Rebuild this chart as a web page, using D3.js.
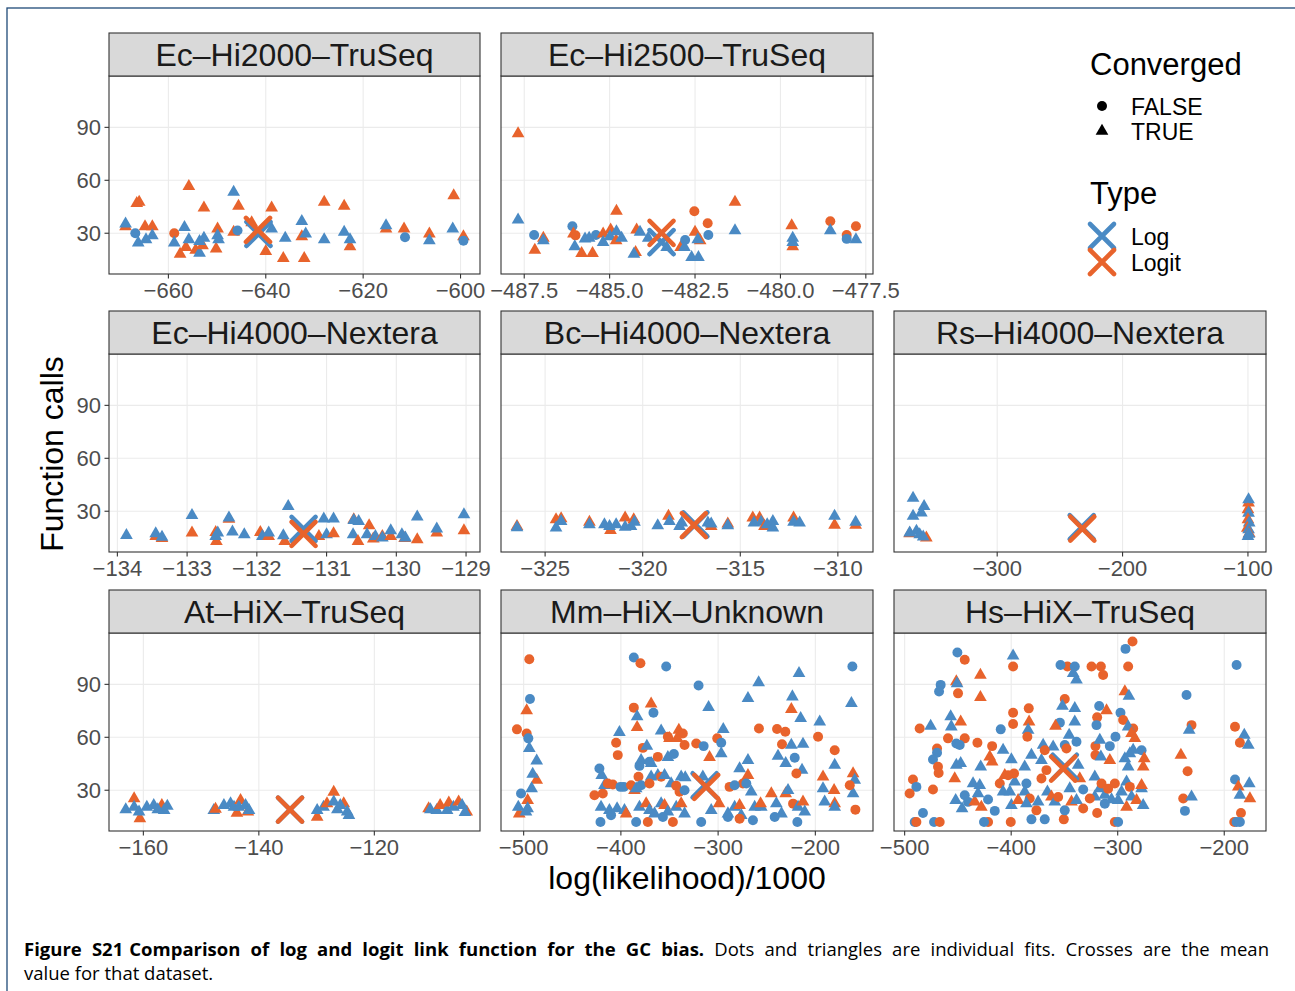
<!DOCTYPE html>
<html>
<head>
<meta charset="utf-8">
<script src="https://cdn.jsdelivr.net/npm/d3@7"></script>
<style>
body { margin: 0; background: #fff; }
svg text { font-family: "Liberation Sans", Arial, Helvetica, sans-serif; }
</style>
</head>
<body>
<div id="chart"></div>
<script>
// facets, in facet_wrap order
const datasets = ["Ec–Hi2000–TruSeq", "Ec–Hi2500–TruSeq", "Ec–Hi4000–Nextera", "Bc–Hi4000–Nextera",
    "Rs–Hi4000–Nextera", "At–HiX–TruSeq", "Mm–HiX–Unknown", "Hs–HiX–TruSeq"]
const xDomains = [[-672.2, -596.0], [-488.18, -477.29], [-134.12, -128.8], [-327.26, -308.2],
    [-382.3, -85.6], [-165.95, -101.7], [-523.3, -140.7], [-510, -160.8]]
const xTicks = [[-660, -640, -620, -600], [-487.5, -485, -482.5, -480, -477.5], [-134, -133, -132, -131, -130, -129],
    [-325, -320, -315, -310], [-300, -200, -100], [-160, -140, -120], [-500, -400, -300, -200], [-500, -400, -300, -200]]
const xTickFormats = ["d", ".1f", "d", "d", "d", "d", "d", "d"]
const yDomain = [6.9, 119.1]
const yTicks = [30, 60, 90]
const typeLabels = ["Log", "Logit"]
const convergedLabels = ["FALSE", "TRUE"]
const typeColors = ["#4a8ac4", "#e8632c"]

// individual fits: [log(likelihood)/1000, function calls, type (0 Log, 1 Logit), converged (0/1)]
const fitsEcHi2000 = [
    [-668.8,33.8,1,1],[-668.8,35.3,0,1],[-666.8,30,0,0],[-666.5,47,1,1],[-666,47.6,1,1],[-666.2,24.5,0,1],
    [-664.8,33.8,1,1],[-663.3,33.8,1,1],[-664.6,26.4,0,1],[-663.3,28.7,0,1],[-658.8,30,1,0],[-658.8,24.5,0,1],
    [-657.6,18.2,1,1],[-656.7,33.4,0,1],[-656.4,22,1,1],[-655.8,56.6,1,1],[-655.8,26.4,0,1],[-654.4,20.5,1,1],
    [-653.6,18.8,0,1],[-653,23,1,1],[-653.6,25.4,0,1],[-652.7,27.3,0,1],[-652.7,44.4,1,1],[-650.2,21.1,1,1],
    [-649.9,32.5,1,1],[-649.9,28.7,0,1],[-649.7,26.4,0,1],[-646.6,53.3,0,1],[-646.6,30.6,1,1],[-645.8,31.5,0,0],
    [-645.6,45.4,1,1],[-642.9,36,1,1],[-638.8,32.5,0,1],[-638.8,44.4,1,1],[-640,19.8,1,1],[-636.4,15.8,1,1],
    [-636,27.3,0,1],[-632.6,36.8,0,1],[-632.6,28.1,1,1],[-631.8,29.6,0,1],[-632.1,15.8,1,1],[-628,26.4,0,1],
    [-628,47.6,1,1],[-623.9,45.4,1,1],[-623.9,30.6,0,1],[-622.7,22.4,1,1],[-622.7,26.4,0,1],[-615.3,32.5,1,1],
    [-615.3,34.4,0,1],[-611.6,32.5,1,1],[-611.4,27.7,0,0],[-606.4,29.6,1,1],[-606.4,25.8,0,1],[-601.4,51.4,1,1],
    [-601.6,32.5,0,1],[-599.4,28.1,1,1],[-599.4,25.8,0,0]
]
const fitsEcHi2500 = [
    [-487.68,86.5,1,1],[-487.68,37.6,0,1],[-487.21,29,0,0],[-486.94,27.2,1,1],[-486.94,25.8,0,1],[-487.19,20.5,1,1],
    [-486.09,34,0,0],[-486.06,29.6,1,1],[-486.0,28.8,1,0],[-486.02,22.4,0,1],[-485.82,18.6,1,1],[-485.72,26.8,0,1],
    [-485.6,27.3,0,1],[-485.5,18.6,1,1],[-485.4,29,0,0],[-485.19,29.6,1,1],[-485.19,24.9,0,1],[-484.97,31.9,1,1],
    [-484.99,28.1,0,1],[-484.8,42.5,1,1],[-484.81,25.8,1,1],[-484.8,31,0,1],[-484.65,27.2,0,1],[-484.24,19.2,1,1],
    [-484.29,18.2,0,1],[-484.21,31.9,1,1],[-484.11,30.6,0,1],[-483.87,27.3,0,1],[-483.33,22,0,1],[-482.92,22,1,1],
    [-482.79,26.2,0,0],[-482.81,22,0,1],[-482.52,42.5,1,0],[-482.5,30.6,1,1],[-482.6,16.3,0,1],[-482.4,16.3,0,1],
    [-482.35,25.8,1,1],[-482.42,26.4,0,1],[-482.13,35.7,1,0],[-482.11,29,0,0],[-481.33,47.6,1,1],[-481.33,31.5,0,1],
    [-479.67,34.4,1,1],[-479.64,22.4,1,1],[-479.64,24.9,0,1],[-479.64,27.2,0,1],[-478.54,36.8,1,0],[-478.54,31.5,0,1],
    [-478.06,29,1,0],[-478.06,26.8,0,0],[-477.79,34,1,0],[-477.79,26.4,0,1]
]
const fitsEcHi4000 = [
    [-133.87,16.4,0,1],[-133.45,15.8,1,1],[-133.45,17.4,0,1],[-133.36,14.6,1,1],[-133.36,15.3,0,1],[-132.93,17.7,1,1],
    [-132.93,27.7,0,1],[-132.58,13,1,1],[-132.59,18.1,1,1],[-132.59,15.8,0,1],[-132.56,17.7,0,1],[-132.4,25.5,1,1],
    [-132.4,26.2,0,1],[-132.35,18.3,0,1],[-132.18,16.8,0,1],[-131.95,18.1,1,1],[-131.92,15.8,0,1],[-131.83,15.8,1,1],
    [-131.83,17.7,0,1],[-131.6,13,1,1],[-131.62,16.2,0,1],[-131.55,32.8,0,1],[-131.11,15.8,1,1],[-131.04,25.7,0,1],
    [-131.0,16.8,0,1],[-130.9,17.4,1,1],[-130.9,25.7,0,1],[-130.61,25.3,1,1],[-130.62,16.8,0,1],[-130.61,24.8,0,1],
    [-130.54,24.3,0,1],[-130.55,13,1,1],[-130.39,21.9,1,1],[-130.42,16.8,0,1],[-130.33,14.3,1,1],[-130.3,15.8,0,1],
    [-130.2,15.8,1,1],[-130.2,14.9,0,1],[-130.08,15.8,1,1],[-130.08,19,0,1],[-129.88,14.6,1,1],[-129.92,16.8,0,1],
    [-129.87,14.9,0,1],[-129.7,14,1,1],[-129.7,26.8,0,1],[-129.42,17.7,1,1],[-129.42,20,0,1],[-129.03,19,1,1],
    [-129.03,28.1,0,1]
]
const fitsBcHi4000 = [
    [-326.44,21.5,1,1],[-326.44,20.8,0,1],[-324.44,25.3,1,1],[-324.18,25.8,1,1],[-324.18,24.3,0,1],[-324.44,20.6,0,1],
    [-322.73,23.8,1,1],[-322.73,22.5,0,1],[-321.96,22.5,0,1],[-321.65,19.2,1,1],[-321.7,21.5,0,1],[-321.36,22.5,0,1],
    [-320.9,26.2,1,1],[-320.9,21,0,1],[-320.6,21.5,0,1],[-320.46,25.3,1,1],[-320.42,23.8,0,1],[-319.23,21.9,0,1],
    [-318.68,27.2,1,1],[-318.63,24.3,0,1],[-318.11,21.5,0,1],[-318.0,23.4,0,1],[-316.66,23.4,0,1],[-316.49,21.5,1,1],
    [-316.49,22.8,0,1],[-315.64,22.8,1,1],[-315.64,21.9,0,1],[-314.36,26.2,1,1],[-314.01,26.2,1,1],[-314.3,23.4,0,1],
    [-313.93,23.8,0,1],[-313.76,21.5,1,1],[-313.62,22.5,0,1],[-313.33,24.3,0,1],[-313.33,20.6,0,1],[-312.27,26.2,1,1],
    [-312.27,23.8,0,1],[-311.96,23.4,0,1],[-310.17,22.1,1,1],[-310.17,27.2,0,1],[-309.09,22.1,1,1],[-309.09,23.8,0,1]
]
const fitsRsHi4000 = [
    [-369.8,17.4,1,1],[-367.1,37.5,0,1],[-367.1,27.2,0,1],[-358.3,32.8,0,1],[-360.5,29.1,0,1],[-369.8,17.7,0,1],
    [-364.4,18.7,0,1],[-356.5,14.9,1,1],[-361.8,16.8,0,1],[-359.0,15.5,0,1],
    [-99.5,34.7,1,1],[-99.5,36.6,0,1],[-100,31,1,1],[-99.5,29,0,1],[-100,25.3,1,1],[-99,23.4,0,1],
    [-100.5,20.5,1,1],[-99.5,19.6,0,1],[-99,17.5,1,1],[-100,15.8,0,1],[-99.2,17,0,1]
]
const fitsAtHiX = [
    [-163.05,19,0,1],[-161.6,25.3,1,1],[-161.6,20.5,0,1],[-160.6,13.9,1,1],[-160.75,17.7,0,1],[-159.4,20.5,0,1],
    [-158.2,21.5,0,1],[-156.8,21.5,1,1],[-156.4,18.6,0,1],[-155.85,21,0,1],[-157.5,19,0,1],
    [-147.8,18.6,0,1],[-147.5,19.3,1,1],[-146.05,21.5,0,1],[-143.8,17,1,1],[-144.9,22.4,0,1],[-144.3,20.5,0,1],
    [-143.17,24.3,1,1],[-143.46,20.5,0,1],[-141.9,17.8,1,1],[-142.3,21.5,0,1],[-141.7,18.6,0,1],
    [-129.9,14.8,1,1],[-129.9,18.6,0,1],[-128.8,20.5,0,1],[-128.2,22.4,1,1],[-127.03,29,1,1],[-127.03,23.4,0,1],
    [-126.4,19,0,1],[-125.3,22.4,1,1],[-125.9,21.5,0,1],[-124.7,17.7,0,1],[-124.4,15.8,0,1],
    [-110.6,19.6,1,1],[-110.3,19,0,1],[-109.2,18.6,0,1],[-108.6,21.5,1,1],[-107.4,18.6,0,1],[-107.1,22.8,1,1],
    [-106.3,20.5,0,1],[-105.4,23.4,1,1],[-104,17.7,1,1],[-104.8,21.5,0,1],[-104.3,17.5,0,1]
]
const fitsMmHiX = [
    [-494.2,104.2,1,0],[-493.5,81.7,0,0],[-496.9,75.1,1,1],[-506.9,64.5,1,0],[-496.9,62.2,1,0],[-495.2,59.4,0,0],
    [-494.2,53.7,0,1],[-486.6,46.7,0,1],[-486.6,35.7,1,1],[-490.7,39.1,0,1],[-491.8,30.9,0,1],[-502.7,28.1,0,0],
    [-495.9,24.3,1,1],[-504.5,16.7,1,1],[-505.5,20.5,0,1],[-495.9,19.6,0,1],[-497.6,17.7,0,1],
    [-386.7,105.2,0,0],[-379.9,102,1,0],[-353.4,100.1,0,0],[-386.7,76.8,1,0],[-368.9,78.9,1,1],[-366.5,73.9,0,0],
    [-383.3,71.7,0,1],[-383.3,65.6,1,1],[-401.5,62.8,0,1],[-358.6,63.7,0,1],[-340.4,64.1,1,1],[-336.3,62.2,1,0],
    [-350.0,59.4,1,1],[-351.7,60.3,1,0],[-404.9,56.9,1,0],[-403.2,49.9,1,0],[-377.4,54.0,1,0],[-373.3,55.0,0,1],
    [-379.2,47.0,0,1],[-380.9,43.8,0,0],[-368.9,45.2,0,1],[-370.6,46.1,0,0],[-362.0,48.9,1,0],[-351.7,48.6,0,1],
    [-345.5,50.5,0,0],[-334.5,55.6,1,0],[-342.1,59.4,1,1],[-422.1,42.3,0,0],[-419.7,38.5,0,1],[-427.2,27.2,1,0],
    [-418.6,28.1,1,0],[-416.9,32.8,0,1],[-413.5,33.8,1,0],[-408.3,33.2,1,0],[-400.4,31.9,0,0],[-397.0,31.9,0,0],
    [-389.5,32.8,1,0],[-386.0,30.0,1,1],[-384.3,30.9,0,1],[-381.9,37.6,1,0],[-379.2,32.8,0,0],[-368.9,37.6,0,1],
    [-370.6,33.8,1,0],[-362.0,38.5,0,1],[-358.6,37.6,1,0],[-355.1,38.5,0,1],[-348.3,33.8,0,1],[-343.1,32.5,1,0],
    [-338.0,37.6,0,1],[-339.7,29.1,1,0],[-334.5,30.0,0,0],[-333.8,37.2,0,1],
    [-421.0,12,0,0],[-420.4,20.5,0,1],[-411.8,18.6,0,1],[-410.1,15.8,0,0],[-403.9,19.6,0,1],[-396.3,18.6,0,1],
    [-394.6,16.7,1,1],[-384.3,12,0,0],[-380.9,20.5,0,1],[-374.0,22.4,1,1],[-370.6,18.6,0,1],[-372.3,12,1,0],
    [-365.4,16.7,0,1],[-358.6,22.4,0,1],[-355.1,21.5,1,1],[-351.7,17.7,0,1],[-346.5,12,1,0],[-356.8,14.8,0,0],
    [-343.1,20.5,0,1],[-338.0,22.4,1,1],[-334.5,16.7,0,1],
    [-320.1,89.3,0,0],[-322.5,56.5,1,0],[-314.9,55.0,0,0],[-300.9,59.4,1,0],[-296.8,56.9,0,0],[-294.7,64.5,0,1],
    [-296.8,50.8,0,1],[-309.8,77.0,0,1],[-308.8,48.6,1,1],[-315.7,37.6,0,1],[-307.1,18.6,0,1],[-317.4,12,0,0],
    [-299,22.4,1,1],[-289.9,16.7,0,1],[-289.9,14.8,0,0],[-283.0,20.5,0,1],[-277.9,21.5,1,1],[-276.2,15.8,0,1],
    [-277.9,13.9,1,0],[-269.3,82.1,0,1],[-258.3,91.0,0,1],[-258.0,65.0,1,0],[-269.3,47.0,0,1],[-277.9,42.3,0,1],
    [-269.3,38.5,1,1],[-274.5,33.8,1,0],[-271.0,33.8,0,0],[-288.2,31.9,1,0],[-283.0,32.8,0,0],[-265.9,29.1,0,1],
    [-264.2,13,0,0],[-262.4,20.5,0,1],[-255.6,20.5,0,1],[-256.3,22.4,1,1],
    [-216.8,96.3,0,1],[-223.6,83.0,0,1],[-224.7,75.8,1,1],[-215.1,70.7,0,1],[-239.4,64.7,1,0],[-230.9,63.1,1,0],
    [-234.3,56.1,1,0],[-224.7,55.6,0,1],[-212.7,56.1,0,1],[-238.4,49.3,0,1],[-221.2,48.4,0,0],[-230.5,45.2,0,1],
    [-213.7,41.4,0,1],[-219.5,39.5,1,0],[-245.3,28.1,1,1],[-240.1,22.4,0,1],[-241.8,14.8,0,0],[-234.8,16.7,0,1],
    [-230.5,28.1,1,1],[-228.1,30.0,0,1],[-222.9,22.4,1,0],[-218.5,12,0,0],[-217.8,20.5,0,1],[-212.7,23.4,1,1],
    [-210.9,17.7,0,1],[-195.5,68.8,0,1],[-197.2,60.3,1,0],[-180.1,52.7,1,0],[-180.1,44.2,0,1],[-192.1,37.6,1,1],
    [-192.1,30.9,0,1],[-180.7,30.0,1,1],[-190.4,23.4,0,1],[-180.1,22.4,1,1],[-180.1,20.5,0,1],
    [-161.9,100.1,0,0],[-162.9,79.2,0,1],[-161.2,39.5,1,1],[-159.5,35.7,0,1],[-161.2,28.1,0,1],[-158.8,19.0,1,0],
    [-164.6,32.8,1,0]
]
const fitsHsHiX = [
    [-286.1,114.3,1,0],[-292.7,110.1,0,0],[-450.5,108.0,0,0],[-443.6,103.9,1,0],[-398.2,106.1,0,1],[-398.2,100.1,1,0],
    [-347.2,100.1,1,0],[-353.7,101.0,0,0],[-340.3,100.1,0,0],[-341.8,96.3,0,1],[-338.7,92.5,0,1],[-324.6,100.1,1,0],
    [-315.8,100.1,1,0],[-313.7,95.3,1,0],[-290.2,100.1,1,0],[-188.4,101.0,0,0],[-428.9,95.3,1,1],[-428.9,82.7,1,1],
    [-466.2,89.7,0,0],[-467.7,85.9,0,0],[-451.5,91.6,1,1],[-450.8,90.5,0,1],[-449.9,84.9,1,0],[-293.3,85.9,1,1],
    [-289.5,83.4,0,1],[-235.4,84.0,0,0],[-230.7,66.9,1,0],[-232.9,64.1,0,1],[-349.7,81.7,1,0],[-351.9,77.7,0,1],
    [-340.3,76.4,0,1],[-317.4,77.7,0,0],[-310.5,75.1,1,1],[-398.2,73.9,1,0],[-383.5,76.4,1,0],[-398.2,67.5,1,0],
    [-409.8,64.5,0,0],[-297.4,73.9,0,0],[-294.9,69.8,1,0],[-340.3,68.8,0,1],[-354.3,68.3,0,0],[-358.4,66.4,1,1],
    [-319.3,71.3,1,0],[-319.9,66.9,0,0],[-475.6,66.4,0,1],[-485.9,65.0,1,0],[-456.8,71.7,0,1],[-447.4,68.8,1,1],
    [-456.2,66.0,0,1],[-285.5,65.0,1,0],[-290.2,66.0,0,1],[-287.0,62.2,1,1],[-283.9,59.4,1,1],[-302.1,60.3,0,0],
    [-383.2,68.8,1,1],[-384.1,64.1,0,1],[-384.8,60.3,1,0],[-189.9,66.0,1,0],[-181.2,61.3,0,1],[-185.3,56.9,1,0],
    [-177.4,55.6,0,1],[-459.3,59.4,1,0],[-443.6,59.4,1,0],[-451.5,56.5,0,0],[-448.3,55.6,0,0],[-451.5,44.2,0,1],
    [-447.4,45.2,0,1],[-453.0,36.6,1,1],[-469.6,53.7,1,0],[-469.6,51.2,0,0],[-473.4,47.4,0,0],[-468.7,43.3,1,0],
    [-468.1,39.8,1,0],[-431.7,56.9,1,0],[-417.9,55.0,1,0],[-420.1,48.9,1,1],[-417.9,46.1,1,1],[-428.6,43.3,0,1],
    [-407.6,52.7,0,1],[-399.8,47.4,0,1],[-381.0,49.9,0,1],[-371.6,47.0,0,1],[-370.0,55.6,0,1],[-360.6,54.6,0,1],
    [-368.5,52.7,1,0],[-349.7,55.6,0,0],[-348.1,53.7,1,0],[-338.7,57.5,0,0],[-345.6,61.3,0,1],[-337.1,44.2,0,1],
    [-366.9,41.4,1,0],[-371.6,36.6,1,0],[-387.3,43.3,0,1],[-396.7,34.7,0,1],[-397.3,39.5,1,0],[-320.9,55.0,1,0],
    [-320.9,49.9,1,0],[-316.8,58.4,0,1],[-315.8,48.9,0,1],[-307.4,47.0,1,1],[-307.4,55.0,0,0],[-293.3,48.0,0,1],
    [-288.6,50.8,0,1],[-285.5,52.7,0,1],[-277.6,52.7,0,0],[-275.1,48.0,1,1],[-290.2,43.3,0,1],[-276.1,43.3,1,1],
    [-240.7,49.9,1,1],[-234.4,40.8,1,0],[-189.9,36.1,0,0],[-176.5,33.8,0,1],[-186.8,31.9,1,1],[-185.3,27.2,0,1],
    [-175.9,25.3,1,1],[-184.3,17.1,1,0],[-190.6,12,1,0],[-188.4,12,0,0],[-185.3,12,0,0],[-492.2,36.1,1,0],
    [-489.0,31.9,0,0],[-495.3,28.1,1,0],[-473.4,30.4,1,0],[-482.8,17.1,0,0],[-490.6,12,0,0],[-489.0,12,1,0],
    [-472.4,12,0,0],[-467.1,12,1,0],[-421.7,12,1,0],[-425.5,12,0,0],[-400.4,12,1,0],[-381.0,13.5,0,0],
    [-368.5,13.5,0,0],[-350.6,13.5,1,0],[-319.3,17.1,1,0],[-302.7,12,1,0],[-299.6,12,0,0],[-236.9,18.3,0,0],
    [-238.5,25.3,1,0],[-230.7,26.2,0,1],
    [-452.1,24.3,0,1],[-446.1,19.6,0,1],[-443.6,27.2,0,0],[-440.5,23.4,0,0],[-434.2,23.4,1,1],[-435.8,33.8,0,1],
    [-429.5,32.8,0,1],[-431.1,28.1,0,1],[-428.0,20.5,1,1],[-421.7,24.7,0,0],[-415.4,18.3,0,0],[-410.7,33.8,1,0],
    [-407.6,29.1,0,1],[-406.0,38.5,1,1],[-401.3,29.1,0,1],[-402.9,38.5,1,0],[-399.8,21.5,0,1],[-393.5,24.3,1,1],
    [-385.7,33.8,0,0],[-387.3,29.1,0,1],[-382.6,25.3,1,0],[-385.7,22.4,0,1],[-376.3,18.6,1,0],[-374.7,23.4,0,1],
    [-366.0,29.1,0,1],[-362.2,26.2,1,1],[-359.1,23.4,0,1],[-355.9,26.2,1,0],[-349.7,18.6,0,0],[-345.0,30.9,0,1],
    [-343.4,23.4,1,1],[-335.6,36.6,1,1],[-332.4,30.4,0,0],[-338.7,24.3,0,1],[-332.4,19.6,1,0],[-321.5,26.2,0,1],
    [-326.2,25.3,1,0],[-321.5,37.6,0,1],[-316.8,30.9,0,1],[-315.2,33.8,1,0],[-312.1,27.2,0,1],[-312.1,22.4,0,0],
    [-309.0,30.9,1,0],[-305.8,24.7,0,1],[-302.7,33.8,1,0],[-299.6,24.3,0,1],[-296.4,29.1,0,1],[-291.7,20.5,1,1],
    [-291.7,34.7,0,1],[-288.6,31.9,1,0],[-287.0,26.2,0,1],[-282.3,24.3,1,1],[-277.6,30.9,0,1],[-277.6,32.8,1,1],
    [-276.1,21.5,0,1]
]
const fitsByPanel = [fitsEcHi2000, fitsEcHi2500, fitsEcHi4000, fitsBcHi4000, fitsRsHi4000, fitsAtHiX, fitsMmHiX, fitsHsHiX]

// dataset means (the crosses)
const meanLog = [[-641.5,29.6], [-483.48,24.9], [-131.33,20], [-317.3,22.5], [-232.6,21], [-134.6,19], [-313.9,32.8], [-349.7,43.3]]
const meanLogit = [[-641.6,31.9], [-483.48,30.2], [-131.33,17.2], [-317.38,22.1], [-232.1,20.2], [-134.6,19], [-312.2,31.9], [-351.2,42.3]]

const width = 1295, height = 991
const svg = d3.select("#chart").append("svg").attr("width", width).attr("height", height)

// figure frame
svg.append("rect").attr("x", 7).attr("y", 8).attr("width", width + 20).attr("height", height + 20)
    .attr("fill", "none").attr("stroke", "#1f4a78").attr("stroke-width", 1.3)

const colX = [109, 501, 894], colW = [371, 372, 372]
const rowY = [33, 311, 590], stripH = 43, plotH = 198
const grid = [[0, 0], [0, 1], [1, 0], [1, 1], [1, 2], [2, 0], [2, 1], [2, 2]]

const triangle = d3.symbol().type(d3.symbolTriangle).size(70)()
const circle = d3.symbol().type(d3.symbolCircle).size(78)()
const crossPath = s => `M${-s},${-s}L${s},${s}M${-s},${s}L${s},${-s}`

datasets.forEach((name, i) => {
    const [r, c] = grid[i]
    const x0 = colX[c], w = colW[c], top = rowY[r] + stripH
    const g = svg.append("g")
    const x = d3.scaleLinear().domain(xDomains[i]).range([x0, x0 + w])
    const y = d3.scaleLinear().domain(yDomain).range([top + plotH, top])

    g.append("rect").attr("x", x0).attr("y", top).attr("width", w).attr("height", plotH).attr("fill", "#fff")
    g.selectAll(".vg").data(xTicks[i]).enter().append("line")
        .attr("x1", d => x(d)).attr("x2", d => x(d)).attr("y1", top).attr("y2", top + plotH)
        .attr("stroke", "#ebebeb").attr("stroke-width", 1.1)
    g.selectAll(".hg").data(yTicks).enter().append("line")
        .attr("x1", x0).attr("x2", x0 + w).attr("y1", d => y(d)).attr("y2", d => y(d))
        .attr("stroke", "#ebebeb").attr("stroke-width", 1.1)

    const clipId = "clip" + i
    svg.append("clipPath").attr("id", clipId).append("rect")
        .attr("x", x0).attr("y", top).attr("width", w).attr("height", plotH)
    const pts = g.append("g").attr("clip-path", `url(#${clipId})`)
    pts.selectAll("path.pt").data(fitsByPanel[i]).enter().append("path")
        .attr("class", "pt")
        .attr("d", d => d[3] ? triangle : circle)
        .attr("transform", d => `translate(${x(d[0])},${y(d[1])})`)
        .attr("fill", d => typeColors[d[2]])

    const means = [meanLog[i], meanLogit[i]]
    pts.selectAll("path.mean").data(means).enter().append("path")
        .attr("class", "mean")
        .attr("d", crossPath(12))
        .attr("transform", d => `translate(${x(d[0])},${y(d[1])})`)
        .attr("stroke", (d, k) => typeColors[k]).attr("stroke-width", 4.6)
        .attr("stroke-linecap", "round").attr("fill", "none")

    g.append("rect").attr("x", x0).attr("y", top).attr("width", w).attr("height", plotH)
        .attr("fill", "none").attr("stroke", "#333").attr("stroke-width", 1.1)

    // strip
    g.append("rect").attr("x", x0).attr("y", rowY[r]).attr("width", w).attr("height", stripH)
        .attr("fill", "#d9d9d9").attr("stroke", "#333").attr("stroke-width", 1.1)
    g.append("text").attr("x", x0 + w / 2).attr("y", rowY[r] + 32.5).attr("text-anchor", "middle")
        .style("font-size", "32px").attr("fill", "#1a1a1a").text(name)

    // x axis
    const fmt = d3.format(xTickFormats[i])
    g.selectAll(".xt").data(xTicks[i]).enter().append("line")
        .attr("x1", d => x(d)).attr("x2", d => x(d)).attr("y1", top + plotH).attr("y2", top + plotH + 4.5)
        .attr("stroke", "#333").attr("stroke-width", 1.1)
    g.selectAll(".xl").data(xTicks[i]).enter().append("text")
        .attr("x", d => x(d)).attr("y", top + plotH + 24).attr("text-anchor", "middle")
        .style("font-size", "22px").attr("fill", "#4d4d4d").text(d => fmt(d))

    // y axis on the first column only
    if (c === 0) {
        g.selectAll(".yt").data(yTicks).enter().append("line")
            .attr("x1", x0 - 4.5).attr("x2", x0).attr("y1", d => y(d)).attr("y2", d => y(d))
            .attr("stroke", "#333").attr("stroke-width", 1.1)
        g.selectAll(".yl").data(yTicks).enter().append("text")
            .attr("x", x0 - 8).attr("y", d => y(d) + 8).attr("text-anchor", "end")
            .style("font-size", "22px").attr("fill", "#4d4d4d").text(d => d)
    }
})

// axis titles
svg.append("text").attr("transform", "translate(63,454) rotate(-90)").attr("text-anchor", "middle")
    .style("font-size", "32px").attr("fill", "#000").text("Function calls")
svg.append("text").attr("x", 687).attr("y", 889).attr("text-anchor", "middle")
    .style("font-size", "32px").attr("fill", "#000").text("log(likelihood)/1000")

// legends
const lg = svg.append("g")
lg.append("text").attr("x", 1090).attr("y", 75).style("font-size", "31px").text("Converged")
convergedLabels.forEach((lab, k) => {
    const cy = 106 + k * 25
    lg.append("path").attr("d", k ? triangle : circle).attr("transform", `translate(1102,${cy})`).attr("fill", "#000")
    lg.append("text").attr("x", 1131).attr("y", cy + 8.5).style("font-size", "23px").text(lab)
})
lg.append("text").attr("x", 1090).attr("y", 204).style("font-size", "31px").text("Type")
typeLabels.forEach((lab, k) => {
    const cy = 236 + k * 26
    lg.append("path").attr("d", crossPath(12)).attr("transform", `translate(1102,${cy})`)
        .attr("stroke", typeColors[k]).attr("stroke-width", 4.6).attr("stroke-linecap", "round").attr("fill", "none")
    lg.append("text").attr("x", 1131).attr("y", cy + 9).style("font-size", "23px").text(lab)
})

// caption, justified on the first line
const capFont = "'Open Sans', Lato, sans-serif"
const cap1 = svg.append("text").attr("x", 24).attr("y", 956).style("font-family", capFont).style("font-size", "18.5px")
cap1.append("tspan").style("font-weight", "bold").text("Figure S21")
cap1.append("tspan").attr("dx", 6).style("font-weight", "bold").text("Comparison of log and logit link function for the GC bias.")
cap1.append("tspan").text(" Dots and triangles are individual fits. Crosses are the mean")
const natural = cap1.node().getComputedTextLength()
const nSpaces = cap1.text().split(" ").length - 1
cap1.attr("word-spacing", Math.max(0, (1263 - 24 - natural) / nSpaces))
svg.append("text").attr("x", 24).attr("y", 980).style("font-family", capFont).style("font-size", "18.5px")
    .text("value for that dataset.")
</script>
</body>
</html>
